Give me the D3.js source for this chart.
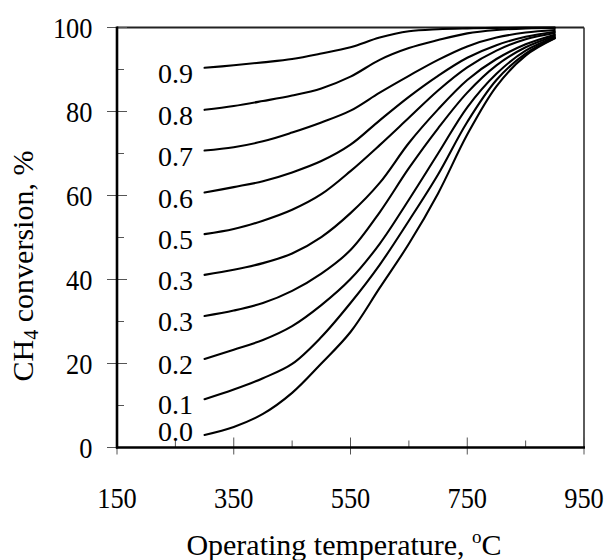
<!DOCTYPE html>
<html>
<head>
<meta charset="utf-8">
<script src="https://cdn.jsdelivr.net/npm/d3@7"></script>
<style>
  html, body { margin: 0; padding: 0; background: #fff; }
  svg { display: block; }
  text { font-family: "Liberation Serif", "Times New Roman", serif; fill: #000; }
</style>
</head>
<body>
<svg id="chart" width="607" height="560"></svg>
<script>
// ---------- data ----------
const temperatures = [300, 350, 400, 450, 500, 550, 600, 650, 700, 750, 800, 850, 900];
const seriesLabels = ["0.9", "0.8", "0.7", "0.6", "0.5", "0.3", "0.3", "0.2", "0.1", "0.0"];
const s09 = [90.4, 91.0, 91.7, 92.5, 93.8, 95.3, 97.6, 99.1, 99.6, 99.8, 99.9, 100, 100];
const s08 = [80.4, 81.3, 82.5, 83.8, 85.5, 88.3, 92.3, 95.1, 97.0, 98.6, 99.4, 99.8, 99.9];
const s07 = [70.7, 71.5, 72.9, 75.0, 77.4, 80.2, 84.5, 88.5, 92.3, 95.5, 97.6, 98.8, 99.4];
const s06 = [60.7, 62.0, 63.4, 65.5, 68.2, 72.1, 77.9, 83.5, 88.5, 92.8, 95.8, 97.8, 99.0];
const s05 = [50.8, 52.0, 54.0, 56.6, 60.3, 65.8, 72.0, 78.5, 85.0, 90.5, 94.5, 97.2, 98.7];
const s04 = [41.1, 42.3, 43.9, 46.2, 50.1, 55.8, 63.0, 72.5, 80.5, 87.5, 92.5, 96.0, 98.3];
const s03 = [31.3, 32.6, 34.4, 37.3, 41.4, 47.0, 56.0, 66.5, 76.0, 84.5, 91.0, 95.3, 98.0];
const s02 = [21.1, 23.3, 25.6, 28.9, 33.9, 40.1, 48.5, 59.0, 70.0, 81.0, 89.0, 94.5, 97.7];
const s01 = [11.5, 13.8, 16.5, 19.9, 26.3, 34.4, 43.5, 54.0, 65.0, 77.5, 87.5, 93.8, 97.5];
const s00 = [3.0, 4.9, 8.0, 13.0, 20.0, 27.5, 38.0, 48.5, 60.5, 74.5, 86.0, 93.3, 97.4];
const allSeries = [s09, s08, s07, s06, s05, s04, s03, s02, s01, s00];

const xMajorTicks = [150, 350, 550, 750, 950];
const xMinorTicks = [250, 450, 650, 850];
const yMajorTicks = [0, 20, 40, 60, 80, 100];
const yMinorTicks = [10, 30, 50, 70, 90];
const xTitle = "Operating temperature, ";
const yTitleMain = "CH";
const yTitleSub = "4";
const yTitleRest = " conversion, %";

// ---------- layout ----------
const svg = d3.select("#chart");
const x = d3.scaleLinear().domain([150, 950]).range([117, 584]);
const y = d3.scaleLinear().domain([0, 100]).range([447.5, 27.5]);
const x0 = x.range()[0], x1 = x.range()[1];
const yB = y.range()[0], yT = y.range()[1];

// frame top/right (thin)
svg.append("line").attr("x1", x0).attr("x2", x1).attr("y1", yT).attr("y2", yT)
  .attr("stroke", "#222").attr("stroke-width", 2);
svg.append("line").attr("x1", x1).attr("x2", x1).attr("y1", yT).attr("y2", yB)
  .attr("stroke", "#333").attr("stroke-width", 1.6);

// ticks
const tickColor = "#555";
svg.append("g").selectAll("line").data(yMajorTicks).join("line")
  .attr("x1", x0 - 10).attr("x2", x0 + 10)
  .attr("y1", d => y(d)).attr("y2", d => y(d))
  .attr("stroke", tickColor).attr("stroke-width", 1);
svg.append("g").selectAll("line").data(yMinorTicks).join("line")
  .attr("x1", x0).attr("x2", x0 + 7)
  .attr("y1", d => y(d)).attr("y2", d => y(d))
  .attr("stroke", tickColor).attr("stroke-width", 1);
svg.append("g").selectAll("line").data(xMajorTicks).join("line")
  .attr("x1", d => x(d)).attr("x2", d => x(d))
  .attr("y1", yB - 10).attr("y2", yB + 7)
  .attr("stroke", tickColor).attr("stroke-width", 1);
svg.append("g").selectAll("line").data(xMinorTicks).join("line")
  .attr("x1", d => x(d)).attr("x2", d => x(d))
  .attr("y1", yB - 7).attr("y2", yB)
  .attr("stroke", tickColor).attr("stroke-width", 1);

// main axes (thick)
svg.append("line").attr("x1", x0).attr("x2", x0).attr("y1", yT - 1).attr("y2", yB + 1)
  .attr("stroke", "#000").attr("stroke-width", 2.6);
svg.append("line").attr("x1", x0 - 1).attr("x2", x1 + 1).attr("y1", yB).attr("y2", yB)
  .attr("stroke", "#000").attr("stroke-width", 2.6);

// tick labels
svg.append("g").selectAll("text").data(yMajorTicks).join("text")
  .attr("transform", d => `translate(92.5,${y(d) + 10.5}) scale(0.88,1)`)
  .attr("text-anchor", "end").attr("font-size", 30)
  .text(d => d);
svg.append("g").selectAll("text").data(xMajorTicks).join("text")
  .attr("transform", d => `translate(${x(d)},508) scale(0.88,1)`)
  .attr("text-anchor", "middle").attr("font-size", 30)
  .text(d => d);

// curves
const line = d3.line()
  .x((d, i) => x(temperatures[i]))
  .y(d => y(d))
  .curve(d3.curveCatmullRom.alpha(0.5));
svg.append("g").selectAll("path").data(allSeries).join("path")
  .attr("d", d => line(d))
  .attr("fill", "none").attr("stroke", "#000").attr("stroke-width", 2.1)
  .attr("stroke-linejoin", "round").attr("stroke-linecap", "round");

// curve labels
svg.append("g").selectAll("text").data(allSeries).join("text")
  .attr("x", 193)
  .attr("y", d => Math.min(y(d[0]) + 15, 441))
  .attr("text-anchor", "end").attr("font-size", 28)
  .text((d, i) => seriesLabels[i]);

// axis titles
const yt = svg.append("text")
  .attr("transform", "translate(33,266) rotate(-90)")
  .attr("text-anchor", "middle").attr("font-size", 30);
yt.append("tspan").text(yTitleMain);
yt.append("tspan").attr("font-size", 20).attr("dy", 5).text(yTitleSub);
yt.append("tspan").attr("dy", -5).text(yTitleRest);

const xt = svg.append("text")
  .attr("x", 344).attr("y", 555)
  .attr("text-anchor", "middle").attr("font-size", 30);
xt.append("tspan").text(xTitle);
xt.append("tspan").attr("font-size", 19).attr("dy", -12).text("o");
xt.append("tspan").attr("dy", 12).text("C");
</script>
</body>
</html>
